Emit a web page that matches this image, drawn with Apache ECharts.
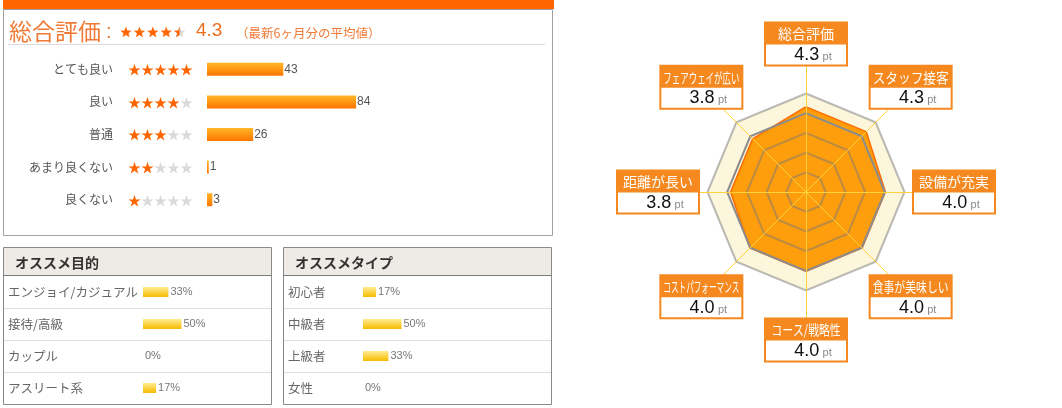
<!DOCTYPE html>
<html><head><meta charset="utf-8">
<script src="https://cdn.jsdelivr.net/npm/echarts@6/dist/echarts.min.js"></script>
<style>html,body{margin:0;padding:0;background:#fff}#c{width:1062px;height:408px}</style>
</head><body><div id="c"></div>
<script>
// ---- data ----
const overallScore = 4.3;
const ratingLabels = ['とても良い','良い','普通','あまり良くない','良くない'];
const ratingStars = [5,4,3,2,1];
const ratingCounts = [43,84,26,1,3];
const purposeLabels = ['エンジョイ/カジュアル','接待/高級','カップル','アスリート系'];
const purposeValues = [33,50,0,17];
const typeLabels = ['初心者','中級者','上級者','女性'];
const typeValues = [17,50,33,0];
const radarNames = ['総合評価','スタッフ接客','設備が充実','食事が美味しい','コース/戦略性','コストパフォーマンス','距離が長い','フェアウェイが広い'];
const radarValues = [4.3,4.3,4.0,4.0,4.0,4.0,3.8,3.8];
const radarMax = 5;

// ---- layout ----
const JP = '"Noto Sans CJK JP", sans-serif';
const NUM = '"Liberation Sans", Arial, sans-serif';
const CX = 806, CY = 192, R = 98.5, RBOX = 148;
const ORANGE = '#f5891f';

const chart = echarts.init(document.getElementById('c'), null, {renderer:'canvas'});

const n = radarNames.length;
// ECharts lays indicators counter-clockwise; reorder clockwise data
const ccw = radarNames.map((_, j) => (n - j) % n);
const indicator = ccw.map(i => ({name: radarNames[i], max: radarMax}));
const radarData = ccw.map(i => radarValues[i]);

const graphics = [];
// top panel
graphics.push({type:'rect', shape:{x:3.5,y:9.5,width:549,height:226}, style:{fill:'#fff', stroke:'#a0a0a0', lineWidth:1}, z:0});
graphics.push({type:'rect', shape:{x:3,y:0,width:551,height:9}, style:{fill:'#ff6600'}, z:1});
graphics.push({type:'line', shape:{x1:8,y1:44.5,x2:545,y2:44.5}, style:{stroke:'#dcdcdc', lineWidth:1}, z:1});
graphics.push({type:'text', x:9, y:31, style:{text:'総合評価', font:'23px '+JP, fill:'#f07a36', textVerticalAlign:'middle'}, z:1});
graphics.push({type:'text', x:106, y:32, style:{text:':', font:'20px '+NUM, fill:'#f07a36', textVerticalAlign:'middle'}, z:1});

// title stars (polygons), 4.3 shown as 4.5 stars
function starPts(cx, cy, ro, ri, leftHalf) {
  const pts = [];
  for (let k = 0; k < 10; k++) {
    const ang = (-90 + k * 36) * Math.PI / 180;
    const r = k % 2 === 0 ? ro : ri;
    pts.push([cx + r * Math.cos(ang), cy + r * Math.sin(ang)]);
  }
  if (!leftHalf) return pts;
  // top(0), then left side: indices 9,8,7,6,5(bottom inner)
  return [pts[0], pts[9], pts[8], pts[7], pts[6], pts[5]];
}
const halfStars = Math.round(overallScore * 2) / 2;
for (let k = 0; k < 5; k++) {
  const cx = 126 + k * 13.4, cy = 32.5;
  const full = k + 1 <= halfStars;
  graphics.push({type:'polygon', shape:{points:starPts(cx, cy, 6, 2.6, false)}, style:{fill: full ? '#ff6600' : '#d9d9d9'}, z:1});
  if (!full && k + 0.5 <= halfStars) {
    graphics.push({type:'polygon', shape:{points:starPts(cx, cy, 6, 2.6, true)}, style:{fill:'#ff6600'}, z:2});
  }
}
graphics.push({type:'text', x:196, y:31, style:{text:String(overallScore), font:'19px '+NUM, fill:'#ee6f22', textVerticalAlign:'middle'}, z:1});
graphics.push({type:'text', x:236, y:33, style:{text:'（最新6ヶ月分の平均値）', font:'12.5px '+JP, fill:'#f07a36', textVerticalAlign:'middle'}, z:1});

// bottom boxes
function box(x0, title) {
  const w = 268;
  graphics.push({type:'rect', shape:{x:x0+0.5,y:247.5,width:w,height:157}, style:{fill:'#fff', stroke:'#8a8a8a', lineWidth:1}, z:0});
  graphics.push({type:'rect', shape:{x:x0+1,y:248,width:w-1,height:27}, style:{fill:'#eeebe6'}, z:1});
  graphics.push({type:'line', shape:{x1:x0,y1:275.5,x2:x0+w+1,y2:275.5}, style:{stroke:'#7a7a7a', lineWidth:1}, z:1});
  [308,340,372].forEach(y => graphics.push({type:'line', shape:{x1:x0+1,y1:y+0.5,x2:x0+w,y2:y+0.5}, style:{stroke:'#dedede', lineWidth:1}, z:1}));
  graphics.push({type:'text', x:x0+12, y:263, style:{text:title, font:'bold 14px '+JP, fill:'#333', textVerticalAlign:'middle'}, z:1});
}
box(3, 'オススメ目的');
box(283, 'オススメタイプ');

// radar label boxes
radarNames.forEach((name, i) => {
  const a = (90 - i * 360 / n) * Math.PI / 180;
  const x = CX + RBOX * Math.cos(a), y = CY - RBOX * Math.sin(a);
  const fs = 14;
  const natural = name.length * fs;
  const sx = natural > 76 ? 76 / natural : 1;
  graphics.push({type:'group', x:x, y:y, z:20, children:[
    {type:'rect', shape:{x:-41,y:-21.5,width:82,height:43}, style:{fill:'#fff', stroke:ORANGE, lineWidth:2}, z:20},
    {type:'rect', shape:{x:-41,y:-21.5,width:82,height:22}, style:{fill:ORANGE}, z:21},
    {type:'text', x:0, y:-10, scaleX:sx, style:{text:name, font:fs+'px '+JP, fill:'#fff', textAlign:'center', textVerticalAlign:'middle'}, z:22},
    {type:'text', x:7, y:11, style:{text:'{v|'+radarValues[i].toFixed(1)+'} {u|pt}', textAlign:'center', textVerticalAlign:'middle',
      rich:{v:{fontSize:18, fontFamily:NUM, fill:'#111', color:'#111'}, u:{fontSize:11, fontFamily:NUM, fill:'#8a8a8a', color:'#8a8a8a', padding:[4,0,0,0]}}}, z:22}
  ]});
});

const barGradOrange = new echarts.graphic.LinearGradient(0,0,0,1,[{offset:0,color:'#ffb82a'},{offset:1,color:'#ff7400'}]);
const barGradYellow = new echarts.graphic.LinearGradient(0,0,0,1,[{offset:0,color:'#ffeb8f'},{offset:1,color:'#f6bb00'}]);

function starLabel(val, idx) {
  const k = ratingStars[idx];
  let s = '{l|' + val + '}';
  if (k > 0) s += '{s|' + '★'.repeat(k) + '}';
  if (5 - k > 0) s += '{e|' + '★'.repeat(5 - k) + '}';
  return s;
}

const option = {
  backgroundColor:'#fff',
  animation:false,
  graphic: graphics,
  grid: [
    {left:207, top:53, width:177.5, height:163},
    {left:143, top:276, width:77, height:128},
    {left:363, top:276, width:77, height:128}
  ],
  xAxis: [
    {gridIndex:0, type:'value', min:0, max:100, show:false},
    {gridIndex:1, type:'value', min:0, max:100, show:false},
    {gridIndex:2, type:'value', min:0, max:100, show:false}
  ],
  yAxis: [
    {gridIndex:0, type:'category', data:ratingLabels, inverse:true, axisLine:{show:false}, axisTick:{show:false},
      axisLabel:{margin:14, formatter:starLabel, rich:{
        l:{width:100, align:'right', fontSize:12, fontFamily:JP, color:'#555', padding:[0,15,0,0]},
        s:{fontSize:13, fontFamily:JP, color:'#ff6600'},
        e:{fontSize:13, fontFamily:JP, color:'#dadada'}}}},
    {gridIndex:1, type:'category', data:purposeLabels, inverse:true, axisLine:{show:false}, axisTick:{show:false},
      axisLabel:{margin:135, align:'left', fontSize:12.5, fontFamily:JP, color:'#666'}},
    {gridIndex:2, type:'category', data:typeLabels, inverse:true, axisLine:{show:false}, axisTick:{show:false},
      axisLabel:{margin:75, align:'left', fontSize:12.5, fontFamily:JP, color:'#666'}}
  ],
  radar: [
    {center:[CX,CY], radius:R, startAngle:90, splitNumber:5, shape:'polygon', indicator:indicator, z:0,
      axisName:{show:false}, axisLine:{show:false}, axisTick:{show:false}, axisLabel:{show:false},
      splitLine:{show:false},
      splitArea:{show:true, areaStyle:{color:['#fbf6dc','#fbf6dc','#fbf6dc','#fbf6dc','#fbf6dc']}}},
    {center:[CX,CY], radius:R, startAngle:90, splitNumber:5, shape:'polygon', indicator:indicator, z:3,
      axisName:{show:false}, axisLine:{show:false}, axisTick:{show:false}, axisLabel:{show:false},
      splitArea:{show:false},
      splitLine:{show:true, lineStyle:{width:2, color:['rgba(120,120,120,0.5)','rgba(120,120,120,0.5)','rgba(120,120,120,0.5)','rgba(120,120,120,0.5)','#8c8c8c']}}},
    {center:[CX,CY], radius:RBOX, startAngle:90, splitNumber:1, shape:'polygon', indicator:indicator, z:4,
      axisName:{show:false}, axisTick:{show:false}, axisLabel:{show:false},
      splitArea:{show:false}, splitLine:{show:false},
      axisLine:{show:true, lineStyle:{color:'#ffd23c', width:1}}}
  ],
  series: [
    {type:'bar', xAxisIndex:0, yAxisIndex:0, data:ratingCounts, barWidth:13, itemStyle:{color:barGradOrange},
      label:{show:true, position:'right', distance:1, fontSize:12, fontFamily:NUM, color:'#555'}},
    {type:'bar', xAxisIndex:1, yAxisIndex:1, data:purposeValues, barWidth:10, itemStyle:{color:barGradYellow},
      label:{show:true, position:'right', distance:2, fontSize:11, fontFamily:NUM, color:'#777', formatter:p => p.value + '%'}},
    {type:'bar', xAxisIndex:2, yAxisIndex:2, data:typeValues, barWidth:10, itemStyle:{color:barGradYellow},
      label:{show:true, position:'right', distance:2, fontSize:11, fontFamily:NUM, color:'#777', formatter:p => p.value + '%'}},
    {type:'radar', radarIndex:0, z:2, symbol:'none',
      data:[{value:radarData, lineStyle:{color:'#ff6600', width:2.5}, areaStyle:{color:'#ff9900', opacity:0.95}}]}
  ]
};
chart.setOption(option);
</script></body></html>
